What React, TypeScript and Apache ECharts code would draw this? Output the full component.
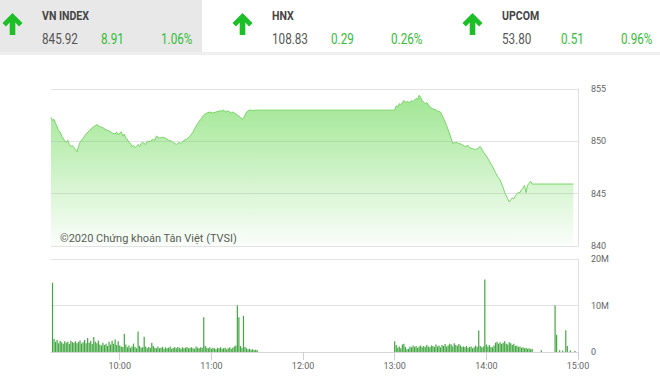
import React, { useEffect, useRef } from 'react';
import * as echarts from 'echarts';

// ---------- header data ----------
const INDEX_NAMES = ['VN INDEX', 'HNX', 'UPCOM'];
const INDEX_VALUES = ['845.92', '108.83', '53.80'];
const INDEX_CHANGES = ['8.91', '0.29', '0.51'];
const INDEX_PCTS = ['1.06%', '0.26%', '0.96%'];

// ---------- axis ticks ----------
const X_TICKS = ['10:00', '11:00', '12:00', '13:00', '14:00', '15:00'];
const X_MIN = '09:15';
const X_MAX = '15:00';
const PRICE_TICKS = [840, 845, 850, 855];
const VOL_TICKS = [0, 10, 20];
const VOL_TICK_LABELS = ['0', '10M', '20M'];

// ---------- price (VN-Index) ----------
const PRICE_TIMES = [
  '09:15', '09:16', '09:17', '09:18', '09:19', '09:20', '09:21', '09:22', '09:23', '09:24',
  '09:25', '09:26', '09:27', '09:28', '09:29', '09:30', '09:31', '09:32', '09:33', '09:34',
  '09:36', '09:38', '09:40', '09:42', '09:44', '09:45', '09:47', '09:49', '09:51', '09:53',
  '09:55', '09:57', '09:58', '09:59', '10:00', '10:01', '10:02', '10:03', '10:04', '10:05',
  '10:06', '10:07', '10:08', '10:09', '10:10', '10:11', '10:12', '10:13', '10:14', '10:15',
  '10:17', '10:18', '10:20', '10:22', '10:23', '10:24', '10:26', '10:28', '10:30', '10:32',
  '10:34', '10:35', '10:37', '10:39', '10:40', '10:42', '10:44', '10:46', '10:48', '10:49',
  '10:51', '10:53', '10:55', '10:57', '10:59', '11:01', '11:03', '11:05', '11:07', '11:08',
  '11:09', '11:11', '11:13', '11:14', '11:16', '11:18', '11:19', '11:20', '11:21', '11:23',
  '11:25', '11:27', '11:30', '13:00', '13:01', '13:02', '13:03', '13:04', '13:06', '13:07',
  '13:08', '13:10', '13:11', '13:12', '13:14', '13:15', '13:16', '13:17', '13:18', '13:20',
  '13:21', '13:23', '13:25', '13:27', '13:28', '13:30', '13:32', '13:34', '13:36', '13:38',
  '13:40', '13:42', '13:44', '13:46', '13:48', '13:49', '13:51', '13:53', '13:55', '13:56',
  '13:58', '14:00', '14:02', '14:04', '14:06', '14:08', '14:09', '14:11', '14:12', '14:14',
  '14:15', '14:16', '14:17', '14:18', '14:19', '14:20', '14:21', '14:22', '14:23', '14:24',
  '14:25', '14:26', '14:27', '14:28', '14:29', '14:30', '14:57',
];
const PRICE_VALUES = [
  852.3, 852.0, 852.1, 851.7, 851.4, 851.0, 850.9, 850.5, 850.3, 850.0,
  849.9, 850.1, 849.7, 849.5, 849.6, 849.4, 849.2, 849.0, 849.5, 849.9,
  850.3, 850.7, 851.0, 851.3, 851.5, 851.6, 851.4, 851.3, 851.1, 851.0,
  850.8, 850.7, 850.9, 850.6, 850.8, 850.9, 850.5, 850.7, 850.3, 850.2,
  849.9, 849.8, 849.5, 849.6, 849.4, 849.5, 849.7, 849.5, 849.8, 849.9,
  849.7, 850.0, 850.0, 850.2, 850.1, 850.5, 850.3, 850.4, 850.3, 850.1,
  850.0, 849.9, 849.7, 849.9, 849.8, 850.1, 850.2, 850.5, 850.9, 851.2,
  851.7, 852.1, 852.5, 852.7, 852.8, 852.7, 852.8, 852.9, 852.9, 853.0,
  852.8, 852.9, 852.7, 852.8, 852.6, 852.4, 852.3, 852.1, 852.2, 852.8,
  853.0, 852.95, 852.98, 852.98, 853.4, 853.3, 853.6, 853.5, 853.9, 853.7,
  853.8, 853.7, 853.9, 853.8, 854.1, 854.0, 854.4, 854.2, 853.9, 853.6,
  853.7, 853.3, 853.1, 853.0, 852.9, 852.8, 852.2, 851.5, 850.7, 849.8,
  849.9, 849.8, 849.7, 849.5, 849.6, 849.4, 849.3, 849.2, 849.4, 849.5,
  849.0, 848.6, 848.1, 847.6, 847.0, 846.5, 846.3, 845.6, 845.1, 844.5,
  844.2, 844.4, 844.6, 844.5, 844.8, 845.0, 845.1, 845.1, 845.4, 845.5,
  845.8, 845.1, 845.8, 846.0, 846.2, 845.92, 845.92,
];

// ---------- volume (millions) ----------
const VOL_AM_START = '09:16';
const VOL_AM = [
  14.9, 2.8, 2.2, 2.6, 1.9, 2.4, 2.1, 1.8, 2.3, 2.0,
  2.2, 1.7, 2.4, 2.1, 2.0, 2.3, 1.9, 2.2, 2.5, 1.8,
  2.1, 2.6, 1.9, 3.0, 2.0, 2.4, 1.7, 3.2, 2.2, 1.9,
  2.5, 1.6, 1.4, 2.0, 1.5, 1.8, 1.3, 2.2, 1.6, 2.4,
  1.8, 2.7, 1.5, 2.3, 1.4, 1.2, 1.1, 3.9, 1.6, 1.0,
  1.4, 0.9, 1.2, 1.8, 1.1, 0.8, 4.4, 1.3, 0.9, 1.0,
  3.3, 1.2, 0.8, 1.1, 0.9, 2.0, 1.3, 0.9, 0.8, 1.2,
  0.8, 0.9, 1.1, 0.7, 1.0, 0.8, 0.9, 1.2, 0.7, 0.9,
  1.0, 0.8, 1.1, 0.9, 0.7, 1.0, 0.8, 0.9, 1.1, 0.8,
  0.9, 1.0, 0.8, 0.7, 1.2, 0.9, 0.8, 1.0, 0.9, 7.5,
  1.3, 0.9, 0.8, 1.0, 0.7, 0.9, 0.8, 0.6, 0.9, 0.8,
  1.0, 0.7, 0.8, 0.9, 0.6, 0.8, 1.0, 0.7, 0.9, 1.2,
  1.4, 10.0, 7.5, 1.3, 0.9, 7.8, 1.1, 0.8, 0.6, 0.7,
  0.5, 0.6, 0.4, 0.5, 0.4,
];
const VOL_PM_START = '13:00';
const VOL_PM = [
  2.3, 1.5, 0.9, 1.2, 0.8, 1.6, 1.8, 1.1, 0.6, 0.7,
  1.2, 1.0, 1.4, 1.1, 1.3, 0.9, 1.2, 1.4, 1.0, 1.3,
  1.1, 1.5, 1.2, 1.0, 1.4, 1.3, 1.1, 1.6, 1.2, 1.4,
  1.0, 1.5, 1.3, 1.7, 1.2, 1.4, 1.8, 1.6, 1.2, 1.9,
  1.5, 1.3, 1.7, 1.4, 1.1, 1.2, 1.0, 1.3, 0.9, 1.1,
  1.2, 0.8, 1.0, 1.4, 1.1, 4.6, 1.3, 1.0, 1.2, 15.6,
  1.6, 1.2, 1.5, 1.1, 1.0, 1.4, 2.0, 2.2, 1.8, 2.1,
  1.7, 2.0, 2.3, 1.8, 1.6, 2.1, 1.9, 1.5, 1.8, 1.3,
  1.4, 1.1, 1.2, 0.9, 1.0, 0.8, 0.9, 0.7, 0.8, 0.6,
  0.7,
];
const VOL_LATE_TIMES = ['14:36', '14:45', '14:46', '14:48', '14:50', '14:52', '14:53', '14:55', '14:58'];
const VOL_LATE = [0.4, 10.0, 3.7, 0.4, 0.3, 4.7, 1.3, 0.3, 0.2];

const WATERMARK = '©2020 Chứng khoán Tân Việt (TVSI)';

const toMin = (t: string) => {
  const [h, m] = t.split(':').map(Number);
  return h * 60 + m;
};
const fmtMin = (v: number) => {
  const h = Math.floor(v / 60);
  const m = Math.round(v - h * 60);
  return `${h < 10 ? '0' : ''}${h}:${m < 10 ? '0' : ''}${m}`;
};

const FONT = 'Roboto, "Liberation Sans", Arial, sans-serif';
const GREEN = '#35bb35';

function buildHeader() {
  const els: any[] = [];
  els.push({ type: 'rect', shape: { x: 0, y: 0, width: 202, height: 52 }, style: { fill: '#e8e8e8' }, silent: true });
  els.push({ type: 'rect', shape: { x: 0, y: 52, width: 660, height: 3 }, style: { fill: '#efefef' }, silent: true });
  INDEX_NAMES.forEach((name, i) => {
    const dx = i * 230;
    const cx = 12.5 + dx;
    els.push({
      type: 'polygon',
      shape: {
        points: [
          [cx, 13], [cx + 10, 23], [cx + 6.6, 26.4], [cx + 2.8, 22.6], [cx + 2.8, 35],
          [cx - 2.8, 35], [cx - 2.8, 22.6], [cx - 6.6, 26.4], [cx - 10, 23],
        ],
      },
      style: { fill: '#1cbf27' },
      silent: true,
    });
    els.push({
      type: 'text', x: 42 + dx, y: 16, scaleX: 0.88,
      style: { text: name, fill: '#444', fontSize: 12, fontWeight: 'bold', fontFamily: FONT, align: 'left', verticalAlign: 'middle' },
      silent: true,
    });
    els.push({
      type: 'text', x: 42 + dx, y: 39, scaleX: 0.78,
      style: { text: INDEX_VALUES[i], fill: '#555', fontSize: 15, fontFamily: FONT, align: 'left', verticalAlign: 'middle' },
      silent: true,
    });
    els.push({
      type: 'text', x: 101 + dx, y: 39, scaleX: 0.78,
      style: { text: INDEX_CHANGES[i], fill: GREEN, fontSize: 15, fontFamily: FONT, align: 'left', verticalAlign: 'middle' },
      silent: true,
    });
    els.push({
      type: 'text', x: 161 + dx, y: 39, scaleX: 0.78,
      style: { text: INDEX_PCTS[i], fill: GREEN, fontSize: 15, fontFamily: FONT, align: 'left', verticalAlign: 'middle' },
      silent: true,
    });
  });
  els.push({
    type: 'text', x: 60, y: 238,
    style: { text: WATERMARK, fill: '#555', fontSize: 11, fontFamily: FONT, align: 'left', verticalAlign: 'middle' },
    silent: true,
  });
  return els;
}

export default function App() {
  const ref = useRef<HTMLDivElement>(null);
  useEffect(() => {
    if (!ref.current) return;
    const chart = echarts.init(ref.current, undefined, { renderer: 'svg' });

    const priceData = PRICE_TIMES.map((t, i) => [toMin(t), PRICE_VALUES[i]]);
    const amStart = toMin(VOL_AM_START);
    const pmStart = toMin(VOL_PM_START);
    const volData = [
      ...VOL_AM.map((v, i) => [amStart + i, v]),
      ...VOL_PM.map((v, i) => [pmStart + i, v]),
      ...VOL_LATE_TIMES.map((t, i) => [toMin(t), VOL_LATE[i]]),
    ];
    const tickMins = X_TICKS.map(toMin);
    const xMin = toMin(X_MIN);
    const xMax = toMin(X_MAX);

    chart.setOption({
      animation: false,
      grid: [
        { left: 51, right: 82, top: 89, height: 157 },
        { left: 51, right: 82, top: 259, height: 93 },
      ],
      xAxis: [
        { type: 'value', gridIndex: 0, min: xMin, max: xMax, show: false },
        {
          type: 'value', gridIndex: 1, min: xMin, max: xMax,
          axisLine: { show: true, lineStyle: { color: '#d6d6d6' } },
          axisTick: { show: true, customValues: tickMins, length: 8, lineStyle: { color: '#cfcfcf' } },
          axisLabel: { customValues: tickMins, formatter: (v: number) => fmtMin(v), color: '#666', fontSize: 9, margin: 9, fontFamily: FONT },
          splitLine: { show: false },
        },
      ],
      yAxis: [
        {
          type: 'value', gridIndex: 0, position: 'right',
          min: PRICE_TICKS[0], max: PRICE_TICKS[PRICE_TICKS.length - 1], interval: PRICE_TICKS[1] - PRICE_TICKS[0],
          axisLine: { show: true, lineStyle: { color: '#e0e0e0' } },
          axisTick: { show: false },
          axisLabel: { color: '#666', fontSize: 9, margin: 13, fontFamily: FONT },
          splitLine: { show: true, lineStyle: { color: '#e2e2e2' } },
        },
        {
          type: 'value', gridIndex: 1, position: 'right',
          min: VOL_TICKS[0], max: VOL_TICKS[VOL_TICKS.length - 1], interval: VOL_TICKS[1] - VOL_TICKS[0],
          axisLine: { show: true, lineStyle: { color: '#e0e0e0' } },
          axisTick: { show: false },
          axisLabel: {
            color: '#666', fontSize: 9, margin: 13, fontFamily: FONT,
            formatter: (v: number) => VOL_TICK_LABELS[VOL_TICKS.indexOf(v)] ?? String(v),
          },
          splitLine: { show: true, lineStyle: { color: '#e2e2e2' } },
        },
      ],
      series: [
        {
          type: 'line', xAxisIndex: 0, yAxisIndex: 0, data: priceData,
          symbol: 'none', showSymbol: false,
          lineStyle: { color: '#7ad468', width: 1 },
          areaStyle: {
            color: new echarts.graphic.LinearGradient(0, 0, 0, 1, [
              { offset: 0, color: 'rgba(112, 218, 92, 0.95)' },
              { offset: 0.55, color: 'rgba(112, 218, 92, 0.45)' },
              { offset: 1, color: 'rgba(112, 218, 92, 0.04)' },
            ]),
          },
        },
        {
          type: 'bar', xAxisIndex: 1, yAxisIndex: 1, data: volData,
          barWidth: 1.2, itemStyle: { color: '#42a642' },
        },
      ],
      graphic: buildHeader(),
    });
    return () => chart.dispose();
  }, []);
  return (
    <div style={{ position: 'absolute', left: 0, top: 0, width: 660, height: 382, background: '#fff' }}>
      <div ref={ref} style={{ width: 660, height: 382 }} />
    </div>
  );
}
